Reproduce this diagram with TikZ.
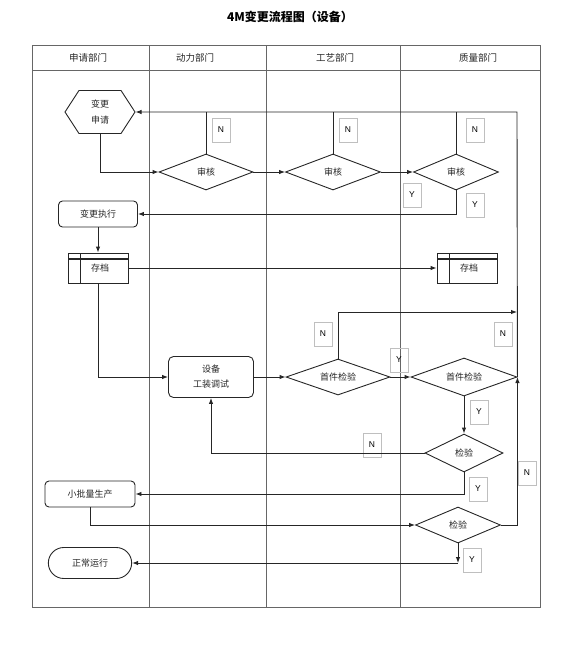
\documentclass[tikz,border=0pt]{standalone}
\usepackage{fontspec}
\setmainfont{Liberation Sans}
\newfontfamily\cjk{Noto Sans CJK SC}
\usetikzlibrary{shapes.geometric,shapes.symbols,shapes.misc,arrows.meta}

\begin{document}
\begin{tikzpicture}[x=1pt,y=-1pt,line width=0.9pt,color=black!85,
  >={Latex[length=6pt,width=4.5pt]},
  txt/.style={font=\cjk\fontsize{9}{11}\selectfont},
  hexa/.style={txt,draw,signal,signal to=east and west,signal pointer angle=114,minimum width=70pt,minimum height=43pt,inner sep=1pt},
  dec/.style={txt,draw,diamond,shape aspect=2.8,inner sep=0pt,minimum width=#1,minimum height=36pt},
  task/.style={txt,draw,rounded corners=4pt,minimum width=#1,minimum height=26pt},
  archive/.style={txt,draw,minimum width=60pt,minimum height=30pt,
    path picture={
      \draw ([xshift=12pt]path picture bounding box.north west) -- ([xshift=12pt]path picture bounding box.south west);
      \draw[line width=1.6pt] ([yshift=-6pt]path picture bounding box.north west) -- ([yshift=-6pt]path picture bounding box.north east);
    }},
  ynbox/.style={draw=black!25,line width=0.5pt,text=black,font=\fontsize{8.5}{10}\selectfont,minimum width=18pt,minimum height=24pt,inner sep=0pt},
  head/.style={font=\cjk\fontsize{9.5}{11}\selectfont}]
  \useasboundingbox (0,0) rectangle (575,662);

  \node[font=\cjk\bfseries\fontsize{12}{14}\selectfont,text=black] (title) at (290,17) {4M变更流程图（设备）};
  \draw[black!60,line width=1pt] (32,45) rectangle (540,607);
  \draw[black!60,line width=1pt] (32,70) -- (540,70);
  \draw[black!60,line width=1pt] (149,45) -- (149,607);
  \draw[black!60,line width=1pt] (266,45) -- (266,607);
  \draw[black!60,line width=1pt] (400,45) -- (400,607);
  \node[head] (ha) at (88,58) {申请部门};
  \node[head] (hb) at (195,58) {动力部门};
  \node[head] (hc) at (335,58) {工艺部门};
  \node[head] (hd) at (478,58) {质量部门};

  \node[hexa,align=center] (req) at (100,112) {变更\\[5pt]申请};
  \node[dec=94pt] (chka) at (206,172) {审核};
  \node[dec=95pt] (chkb) at (333,172) {审核};
  \node[dec=85pt] (chkc) at (456,172) {审核};
  \node[task=79pt] (exe) at (98,214) {变更执行};
  \node[archive] (arca) at (98,268) {\hspace{4pt}存档};
  \node[archive] (arcb) at (467,268) {\hspace{4pt}存档};
  \node[txt,draw,rounded corners=5pt,minimum width=85pt,minimum height=41pt,align=center] (tool) at (211,377) {设备\\[4pt]工装调试};
  \node[dec=104pt] (fia) at (338,377) {首件检验};
  \node[dec=106pt,minimum height=38pt] (fib) at (464,377) {首件检验};
  \node[dec=78pt,minimum height=38pt] (insa) at (464,453) {检验};
  \node[task=90pt] (lot) at (90,494) {小批量生产};
  \node[dec=85pt] (insb) at (458,525) {检验};
  \node[txt,draw,rounded rectangle,minimum width=90pt,minimum height=31pt] (run) at (90,563) {正常运行};
  \coordinate (rtop) at (517,112);
  \coordinate (rmid) at (517,312);

  \node[ynbox] (na) at (221,130) {N};
  \node[ynbox] (nb) at (348,130) {N};
  \node[ynbox] (nc) at (475,130) {N};
  \node[ynbox] (ya) at (412,195) {Y};
  \node[ynbox] (yb) at (475,205) {Y};
  \node[ynbox] (nd) at (323,334) {N};
  \node[ynbox] (ne) at (503,334) {N};
  \node[ynbox] (yc) at (399,360) {Y};
  \node[ynbox] (yd) at (479,412) {Y};
  \node[ynbox] (nf) at (372,445) {N};
  \node[ynbox] (ng) at (527,473) {N};
  \node[ynbox] (ye) at (478,489) {Y};
  \node[ynbox] (yf) at (472,560) {Y};

  \draw[->] (req.south) |- (chka.west);
  \draw[->] (chka.east) -- (chkb.west);
  \draw[->] (chkb.east) -- (chkc.west);
  \draw (chka.north) -- (chka.north |- rtop);
  \draw (chkb.north) -- (chkb.north |- rtop);
  \draw (chkc.north) -- (chkc.north |- rtop);
  \draw[->] (fib.east) -- (rtop) -- (req.east);
  \draw[->] (chkc.south) |- (exe.east);
  \draw[->] (exe.south) -- (arca.north);
  \draw[->] (arca.east) -- (arcb.west);
  \draw[->] (arca.south) |- (tool.west);
  \draw[->] (tool.east) -- (fia.west);
  \draw[->] (fia.east) -- (fib.west);
  \draw[->] (fia.north) |- (rmid);
  \draw[->] (fib.south) -- (insa.north);
  \draw[->] (insa.west) -| (tool.south);
  \draw[->] (insa.south) |- (lot.east);
  \draw[->] (lot.south) |- (insb.west);
  \draw[->] (insb.east) -| (fib.east);
  \draw[->] (insb.south) -- (insb.south |- run.east);
  \draw[->] (insb.south |- run.east) -- (run.east);

\end{tikzpicture}
\end{document}
